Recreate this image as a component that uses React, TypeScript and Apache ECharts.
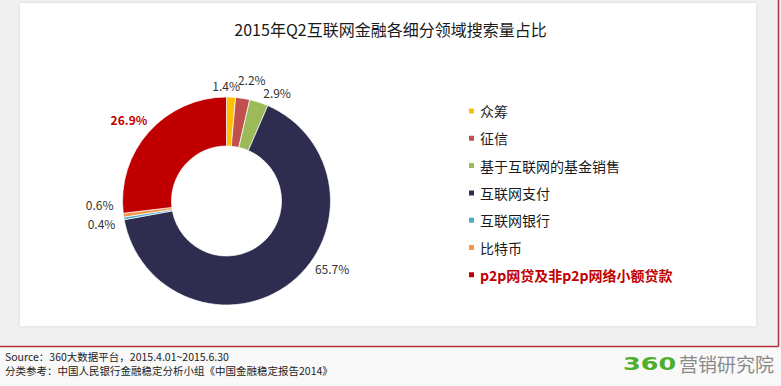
import React, { useEffect, useRef } from "react";
import * as echarts from "echarts";

const categories = ["众筹", "征信", "基于互联网的基金销售", "互联网支付", "互联网银行", "比特币", "p2p网贷及非p2p网络小额贷款"];
const shares = [1.4, 2.2, 2.9, 65.7, 0.4, 0.6, 26.9];
const colors = ["#ffc000", "#c0504d", "#9bbb59", "#2e2c4f", "#4bacc6", "#f79646", "#c00000"];
const titleText = "2015年Q2互联网金融各细分领域搜索量占比";
const sourceLines = [
  "Source：360大数据平台，2015.4.01~2015.6.30",
  "分类参考：中国人民银行金融稳定分析小组《中国金融稳定报告2014》",
];
// label nudges (style only): [dx, dy] per slice
const labelNudges: [number, number][] = [
  [-24, -6], [-43, -26], [-37, -27], [15, -19], [-5, -6], [-4, -11], [8, -8],
];

const FONT = "'Noto Sans CJK SC', 'Noto Sans', sans-serif";

export default function App() {
  const ref = useRef<HTMLDivElement>(null);
  useEffect(() => {
    document.body.style.margin = "0";
    const chart = echarts.init(ref.current!, null, { renderer: "svg" });
    chart.setOption({
      animation: false,
      backgroundColor: "#f0f0f0",
      title: {
        text: titleText,
        left: "center",
        top: 16,
        textStyle: { fontFamily: FONT, fontSize: 16, fontWeight: "normal", color: "#1a1a1a" },
      },
      graphic: [
        { type: "rect", z: -10, shape: { x: 0, y: 347, width: 781, height: 39 }, style: { fill: "#f8f8f8" } },
        {
          type: "rect", z: -9,
          shape: { x: 20, y: 3, width: 736, height: 323 },
          style: { fill: "#ffffff", shadowBlur: 3, shadowColor: "rgba(0,0,0,0.12)" },
        },
        { type: "line", z: -8, shape: { x1: 0, y1: 346.5, x2: 778.5, y2: 346.5 }, style: { stroke: "#b2303a", lineWidth: 1.5 } },
        { type: "line", z: -8, shape: { x1: 778.5, y1: 0, x2: 778.5, y2: 346.5 }, style: { stroke: "#b2303a", lineWidth: 1.5 } },
        {
          type: "text", left: 5, top: 351,
          style: { text: sourceLines[0], fontFamily: FONT, fontSize: 10.5, fill: "#222" },
        },
        {
          type: "text", left: 5, top: 365,
          style: { text: sourceLines[1], fontFamily: FONT, fontSize: 10.5, fill: "#222" },
        },
        {
          type: "text", x: 623, y: 356, scaleX: 1.5,
          style: { text: "360", fontFamily: "'DejaVu Sans'", fontSize: 17, fontWeight: "bold", fill: "#4cae2a" },
        },
        {
          type: "text", x: 679, y: 354,
          style: { text: "营销研究院", fontFamily: FONT, fontSize: 19, fill: "#8a8a8a" },
        },
      ],
      legend: {
        orient: "vertical",
        left: 462,
        top: 99,
        icon: "rect",
        itemWidth: 7,
        itemHeight: 7,
        itemGap: 13.3,
        textStyle: { fontFamily: FONT, fontSize: 14, color: "#1a1a1a", lineHeight: 14 },
        data: categories.map((c, i) =>
          i === categories.length - 1
            ? { name: c, textStyle: { color: "#c00000", fontWeight: "bold" } }
            : { name: c }
        ),
      },
      series: [
        {
          type: "pie",
          center: [226.5, 201],
          radius: [55, 104],
          startAngle: 90,
          clockwise: true,
          avoidLabelOverlap: true,
          itemStyle: { borderColor: "#fff", borderWidth: 0.7 },
          label: {
            show: true,
            position: "outside",
            formatter: (p: any) => p.value.toFixed(1) + "%",
            fontFamily: FONT,
            fontSize: 12,
            color: "#333",
          },
          labelLine: { show: false, length: 6, length2: 0 },
          labelLayout: (p: any) => {
            const n = labelNudges[p.dataIndex] || [0, 0];
            return { dx: n[0], dy: n[1] };
          },
          data: categories.map((c, i) => ({
            name: c,
            value: shares[i],
            itemStyle: { color: colors[i] },
            label: i === categories.length - 1 ? { color: "#c00000", fontWeight: "bold" } : undefined,
          })),
        },
      ],
    });
    return () => chart.dispose();
  }, []);
  return <div ref={ref} style={{ position: "fixed", left: 0, top: 0, width: 781, height: 386 }} />;
}
